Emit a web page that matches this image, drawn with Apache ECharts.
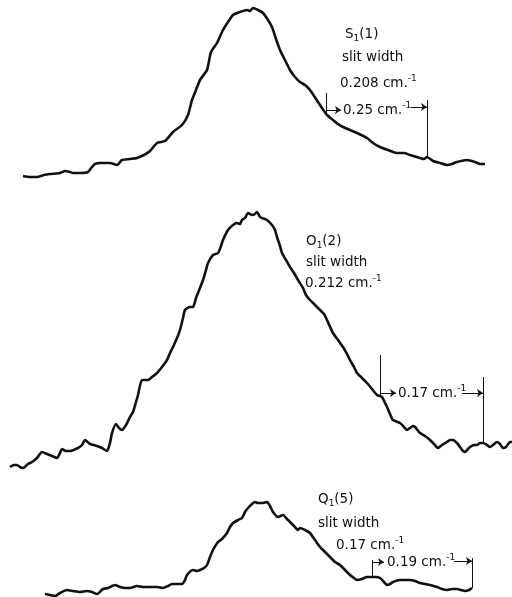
<!DOCTYPE html>
<html>
<head>
<meta charset="utf-8">
<script src="https://cdn.jsdelivr.net/npm/echarts@6/dist/echarts.min.js"></script>
<style>
  html, body { margin: 0; padding: 0; background: #fff; }
  #chart { width: 512px; height: 597px; }
</style>
</head>
<body>
<div id="chart"></div>
<script>
// traces: [position (arb.), intensity (arb.)]
const s1Trace = [
  [23, 4], [30, 3], [37, 3], [44, 5], [50, 6], [60, 7], [65, 9], [70, 8], [73, 7], [80, 7], [88, 8],
  [92, 13], [95, 16], [100, 17], [110, 17], [117, 15], [122, 20], [130, 21], [137, 22], [144, 25],
  [150, 29], [157, 37], [165, 39], [173, 48], [182, 55], [188, 65], [192, 80], [196, 90], [200, 100],
  [207, 110], [211, 128], [217, 137], [223, 150], [228, 158], [233, 165], [240, 168], [247, 170],
  [250, 169], [253, 172], [258, 170], [263, 167], [268, 160], [272, 153], [276, 141], [280, 130],
  [285, 120], [290, 110], [295, 103], [300, 98], [305, 95], [310, 90], [318, 78], [322, 72], [327, 65],
  [333, 60], [338, 56], [343, 53], [350, 50], [357, 47], [367, 42], [373, 37], [380, 33], [388, 30],
  [397, 27], [404, 27], [410, 25], [420, 22], [424, 21], [427, 23], [433, 19], [440, 17], [447, 15],
  [452, 16], [457, 18], [467, 20], [475, 18], [480, 16], [485, 16]
];

const o1Trace = [
  [10, 13], [14, 15], [17, 15], [20, 13], [23, 12], [28, 16], [32, 18], [37, 22], [42, 28], [47, 26],
  [52, 24], [57, 22], [60, 27], [62, 31], [66, 29], [70, 29], [78, 32], [82, 35], [85, 40], [90, 36],
  [97, 34], [102, 32], [107, 29], [110, 37], [112, 47], [116, 56], [119, 52], [122, 50], [126, 55],
  [130, 63], [133, 68], [136, 78], [138, 85], [142, 100], [148, 100], [152, 103], [157, 107],
  [162, 113], [167, 120], [170, 127], [173, 133], [177, 142], [180, 150], [183, 162], [185, 170],
  [190, 173], [193, 173], [196, 182], [198, 187], [203, 200], [206, 210], [208, 217], [213, 225],
  [218, 227], [221, 234], [223, 240], [228, 250], [233, 255], [237, 257], [240, 256], [242, 260],
  [245, 262], [248, 267], [252, 265], [255, 266], [257, 268], [260, 263], [262, 262], [267, 260],
  [272, 255], [275, 250], [277, 243], [280, 234], [282, 227], [286, 220], [290, 213], [294, 207],
  [298, 200], [303, 192], [306, 185], [310, 180], [315, 175], [320, 170], [324, 166], [327, 160],
  [333, 147], [338, 140], [343, 133], [347, 126], [350, 120], [354, 113], [357, 107], [362, 102],
  [367, 97], [372, 91], [377, 85], [380, 84], [382, 83], [387, 73], [390, 66], [393, 60], [400, 57],
  [404, 53], [407, 50], [410, 52], [413, 54], [415, 53], [420, 47], [425, 44], [430, 40], [434, 36],
  [438, 32], [442, 35], [447, 38], [450, 40], [453, 40], [457, 37], [460, 33], [463, 29], [465, 28],
  [468, 31], [470, 33], [474, 35], [477, 35], [480, 37], [483, 37], [487, 35], [490, 33], [493, 35],
  [497, 38], [500, 36], [503, 32], [506, 33], [510, 38], [512, 38]
];

const q1Trace = [
  [45, 3], [50, 2], [55, 1], [60, 4], [67, 7], [73, 6], [80, 5], [87, 6], [92, 5], [97, 3], [103, 8],
  [108, 9], [115, 12], [120, 10], [125, 9], [130, 9], [137, 11], [143, 10], [150, 10], [157, 10],
  [163, 9], [168, 11], [172, 13], [177, 13], [182, 13], [185, 17], [187, 22], [193, 27], [197, 26],
  [200, 27], [204, 29], [207, 32], [210, 40], [213, 47], [218, 55], [222, 58], [227, 64], [230, 70],
  [233, 74], [238, 77], [242, 79], [245, 85], [248, 89], [252, 93], [255, 95], [258, 94], [262, 94],
  [267, 95], [270, 91], [273, 85], [278, 80], [283, 82], [287, 78], [290, 75], [294, 71], [298, 67],
  [300, 69], [305, 67], [310, 64], [315, 57], [320, 50], [325, 45], [330, 40], [335, 35], [340, 32],
  [345, 27], [350, 22], [354, 19], [357, 17], [362, 18], [367, 20], [372, 20], [376, 20], [380, 19],
  [384, 15], [387, 12], [390, 13], [393, 15], [400, 17], [405, 17], [410, 17], [415, 16], [420, 14],
  [425, 13], [430, 12], [437, 10], [442, 8], [447, 7], [452, 8], [457, 8], [461, 7], [465, 6],
  [469, 7], [472, 9]
];

// resolution brackets: [x, low, high] for each tick, arrows as [from, to, height]
const s1Ticks = [[326, 65, 87], [427, 22, 80]];
const s1Arrows = [[326, 341, 70], [411, 427, 73]];
const o1Ticks = [[380, 83, 125], [483, 37, 103]];
const o1Arrows = [[380, 396, 87], [462, 483, 87]];
const q1Ticks = [[372, 20, 37], [472, 9, 39]];
const q1Arrows = [[372, 384, 35], [454, 472, 36]];

const panelLabels = [
  ["S{sub|1}(1)", "slit width", "0.208 cm.{sup|-1}", "0.25 cm.{sup|-1}"],
  ["O{sub|1}(2)", "slit width", "0.212 cm.{sup|-1}", "0.17 cm.{sup|-1}"],
  ["Q{sub|1}(5)", "slit width", "0.17 cm.{sup|-1}", "0.19 cm.{sup|-1}"]
];

const INK = "#111";
const FONT = "DejaVu Sans";

const bracketLines = (ticks, arrows) => {
  const data = [];
  ticks.forEach(([x, lo, hi]) => {
    data.push([{ coord: [x, lo], symbol: "none" }, { coord: [x, hi], symbol: "none" }]);
  });
  arrows.forEach(([x0, x1, y]) => {
    data.push([{ coord: [x0, y], symbol: "none" }, { coord: [x1, y], symbol: "arrow", symbolSize: 6 }]);
  });
  return {
    silent: true,
    animation: false,
    symbol: ["none", "none"],
    label: { show: false },
    lineStyle: { color: INK, width: 1, type: "solid" },
    emphasis: { disabled: true },
    data
  };
};

const traceSeries = (idx, data, ticks, arrows) => ({
  type: "line",
  xAxisIndex: idx,
  yAxisIndex: idx,
  data,
  showSymbol: false,
  smooth: 0.2,
  silent: true,
  lineStyle: { color: INK, width: 2.6 },
  markLine: bracketLines(ticks, arrows)
});

const richStyle = {
  sub: { fontSize: 9, fontFamily: FONT, fill: INK, verticalAlign: "bottom", lineHeight: 10 },
  sup: { fontSize: 9, fontFamily: FONT, fill: INK, verticalAlign: "top", lineHeight: 10 }
};

const label = (text, left, cy) => ({
  type: "text",
  left,
  top: cy - 9,
  silent: true,
  style: {
    text,
    fill: INK,
    font: `13.5px "${FONT}"`,
    lineHeight: 18,
    rich: richStyle
  }
});

// where each label block sits: [left, centre y] for the 4 lines
const labelPlaces = [
  [[345, 34], [342, 57], [340, 83], [343, 110]],
  [[306, 241], [306, 262], [305, 283], [398, 393]],
  [[318, 499], [318, 523], [336, 545], [387, 562]]
];

const graphics = [];
panelLabels.forEach((lines, p) => {
  lines.forEach((t, i) => {
    graphics.push(label(t, labelPlaces[p][i][0], labelPlaces[p][i][1]));
  });
});

const chart = echarts.init(document.getElementById("chart"), null, { renderer: "canvas" });

const xAxis = (i) => ({ gridIndex: i, type: "value", min: 0, max: 512, show: false });

chart.setOption({
  backgroundColor: "#fff",
  animation: false,
  grid: [
    { left: 0, right: 0, top: 0, height: 180 },
    { left: 0, right: 0, top: 200, height: 280 },
    { left: 0, right: 0, top: 480, height: 117 }
  ],
  xAxis: [xAxis(0), xAxis(1), xAxis(2)],
  yAxis: [
    { gridIndex: 0, type: "value", min: 0, max: 180, show: false },
    { gridIndex: 1, type: "value", min: 0, max: 280, show: false },
    { gridIndex: 2, type: "value", min: 0, max: 117, show: false }
  ],
  series: [
    traceSeries(0, s1Trace, s1Ticks, s1Arrows),
    traceSeries(1, o1Trace, o1Ticks, o1Arrows),
    traceSeries(2, q1Trace, q1Ticks, q1Arrows)
  ],
  graphic: graphics
});
</script>
</body>
</html>
